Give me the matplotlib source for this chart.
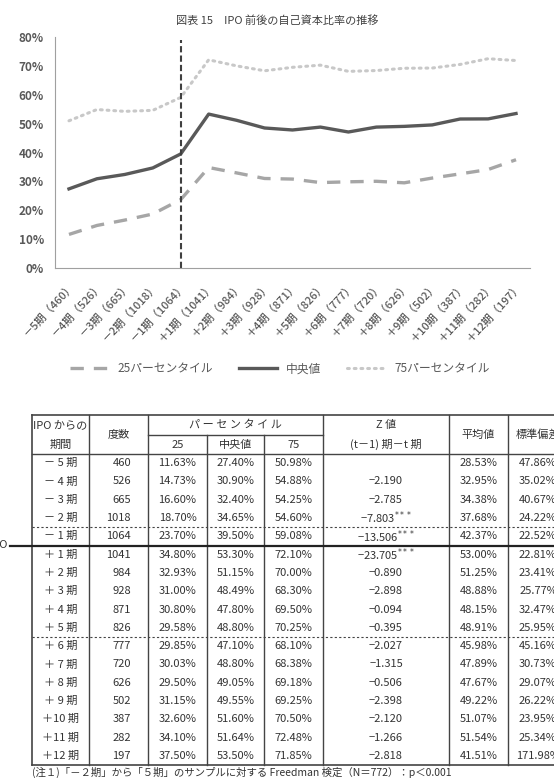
# IPO前後の自己資本比率の推移 (chart + table)

import numpy as np
import matplotlib.pyplot as plt
from matplotlib.ticker import PercentFormatter

plt.rcParams['font.family'] = ['Noto Sans CJK JP', 'DejaVu Sans']

periods = ['－5期', '－4期', '－3期', '－2期', '－1期', '＋1期', '＋2期', '＋3期', '＋4期',
           '＋5期', '＋6期', '＋7期', '＋8期', '＋9期', '＋10期', '＋11期', '＋12期']
table_periods = ['－ 5 期', '－ 4 期', '－ 3 期', '－ 2 期', '－ 1 期', '＋ 1 期', '＋ 2 期',
                 '＋ 3 期', '＋ 4 期', '＋ 5 期', '＋ 6 期', '＋ 7 期', '＋ 8 期', '＋ 9 期',
                 '＋10 期', '＋11 期', '＋12 期']
counts = [460, 526, 665, 1018, 1064, 1041, 984, 928, 871, 826, 777, 720, 626, 502, 387, 282, 197]
p25 = [11.63, 14.73, 16.60, 18.70, 23.70, 34.80, 32.93, 31.00, 30.80, 29.58, 29.85,
       30.03, 29.50, 31.15, 32.60, 34.10, 37.50]
med = [27.40, 30.90, 32.40, 34.65, 39.50, 53.30, 51.15, 48.49, 47.80, 48.80, 47.10,
       48.80, 49.05, 49.55, 51.60, 51.64, 53.50]
p75 = [50.98, 54.88, 54.25, 54.60, 59.08, 72.10, 70.00, 68.30, 69.50, 70.25, 68.10,
       68.38, 69.18, 69.25, 70.50, 72.48, 71.85]
zvals = ['', '−2.190', '−2.785', '−7.803', '−13.506', '−23.705', '−0.890', '−2.898',
         '−0.094', '−0.395', '−2.027', '−1.315', '−0.506', '−2.398', '−2.120', '−1.266', '−2.818']
zsig = ['', '', '', '***', '***', '***', '', '', '', '', '', '', '', '', '', '', '']
means = [28.53, 32.95, 34.38, 37.68, 42.37, 53.00, 51.25, 48.88, 48.15, 48.91, 45.98,
         47.89, 47.67, 49.22, 51.07, 51.54, 41.51]
sds = [47.86, 35.02, 40.67, 24.22, 22.52, 22.81, 23.41, 25.77, 32.47, 25.95, 45.16,
       30.73, 29.07, 26.22, 23.95, 25.34, 171.98]
ipo_index = 4

W, H = 554, 778
fig = plt.figure(figsize=(W / 100, H / 100), dpi=100)

# ---- table layer (pixel coords) ----
tax = fig.add_axes([0, 0, 1, 1])
tax.set_xlim(0, W)
tax.set_ylim(H, 0)
tax.axis('off')

edges = [32, 89, 148, 207, 264, 323, 449, 508, 585]
top, hmid, hbot = 415, 435, 454
rh = 18.3
n = len(periods)
bottom = hbot + n * rh
lc = '#444444'
tc = '#333333'
fs = 8

tax.plot([edges[0], edges[-1]], [top, top], color=lc, lw=1.2)
tax.plot([edges[0], edges[-1]], [bottom, bottom], color=lc, lw=1.2)
tax.plot([edges[0], edges[-1]], [hbot, hbot], color=lc, lw=1)
tax.plot([edges[2], edges[5]], [hmid, hmid], color=lc, lw=1)
for i, x in enumerate(edges):
    y0 = hmid if i in (3, 4) else top
    tax.plot([x, x], [y0, bottom], color=lc, lw=1.2 if i == 0 else 1)
for r in (4, 10):
    y = hbot + r * rh
    tax.plot([edges[0], edges[-1]], [y, y], color=lc, lw=0.8, ls=(0, (2, 2)))
y_ipo = hbot + 5 * rh
tax.plot([10, edges[-1]], [y_ipo, y_ipo], color='#222222', lw=1.6)
tax.text(8, y_ipo, 'IPO', ha='right', va='center', fontsize=fs, color=tc)

cx = [(edges[i] + edges[i + 1]) / 2 for i in range(len(edges) - 1)]
cx[-1] = 538
# headers
tax.text(cx[0], (top + hmid) / 2, 'IPO からの', ha='center', va='center', fontsize=fs, color=tc)
tax.text(cx[0], (hmid + hbot) / 2, '期間', ha='center', va='center', fontsize=fs, color=tc)
tax.text(cx[1], (top + hbot) / 2, '度数', ha='center', va='center', fontsize=fs, color=tc)
tax.text(cx[3], (top + hmid) / 2, 'パ ー セ ン タ イ ル', ha='center', va='center', fontsize=fs, color=tc)
for j, lab in zip((2, 3, 4), ('25', '中央値', '75')):
    tax.text(cx[j], (hmid + hbot) / 2, lab, ha='center', va='center', fontsize=fs, color=tc)
tax.text(cx[5], (top + hmid) / 2, 'Z 値', ha='center', va='center', fontsize=fs, color=tc)
tax.text(cx[5], (hmid + hbot) / 2, '(t－1) 期－t 期', ha='center', va='center', fontsize=fs, color=tc)
tax.text(cx[6], (top + hbot) / 2, '平均値', ha='center', va='center', fontsize=fs, color=tc)
tax.text(cx[7], (top + hbot) / 2, '標準偏差', ha='center', va='center', fontsize=fs, color=tc)

for i in range(n):
    y = hbot + (i + 0.5) * rh
    tax.text(cx[0], y, table_periods[i], ha='center', va='center', fontsize=fs, color=tc)
    tax.text(131, y, str(counts[i]), ha='right', va='center', fontsize=fs, color=tc)
    tax.text(cx[2], y, '%.2f%%' % p25[i], ha='center', va='center', fontsize=fs, color=tc)
    tax.text(cx[3], y, '%.2f%%' % med[i], ha='center', va='center', fontsize=fs, color=tc)
    tax.text(cx[4], y, '%.2f%%' % p75[i], ha='center', va='center', fontsize=fs, color=tc)
    if zvals[i]:
        ztxt = zvals[i] + (r'$^{%s}$' % zsig[i] if zsig[i] else '')
        tax.text(cx[5], y, ztxt, ha='center', va='center', fontsize=fs, color=tc)
    tax.text(cx[6], y, '%.2f%%' % means[i], ha='center', va='center', fontsize=fs, color=tc)
    tax.text(cx[7], y, '%.2f%%' % sds[i], ha='center', va='center', fontsize=fs, color=tc)

tax.text(edges[0], 772, '(注１)「－２期」から「５期」のサンプルに対する Freedman 検定（N＝772）：p＜0.001',
         ha='left', va='center', fontsize=7.5, color=tc)

# ---- line chart ----
ax = fig.add_axes([55 / W, 1 - 268 / H, 475 / W, (268 - 37) / H])
x = np.arange(n)
ax.plot(x, p25, color='#a6a6a6', lw=2.4, ls=(0, (4, 3)), label='25パーセンタイル')
ax.plot(x, med, color='#595959', lw=2.4, label='中央値')
ax.plot(x, p75, color='#c8c8c8', lw=2.2, ls=(0, (0.6, 1.6)), dash_capstyle='round',
        label='75パーセンタイル')
ax.axvline(ipo_index, ymin=0, ymax=0.985, color='#404040', lw=1.5, ls=(0, (3, 1.5)))

ax.set_xlim(-0.5, n - 0.5)
ax.set_ylim(0, 80)
ax.set_yticks(np.arange(0, 81, 10))
ax.yaxis.set_major_formatter(PercentFormatter(decimals=0))
ax.set_xticks(x)
ax.set_xticklabels(['%s（%d）' % (p, c) for p, c in zip(periods, counts)], rotation=47,
                   ha='right', rotation_mode='anchor', fontsize=8, color='#595959')
ax.tick_params(axis='y', length=0, labelsize=8.5, labelcolor='#595959', pad=8)
ax.tick_params(axis='x', length=0, pad=9)
for s in ('top', 'right'):
    ax.spines[s].set_visible(False)
ax.spines['left'].set_color('#a0a0a0')
ax.spines['bottom'].set_color('#a0a0a0')
for lab in ax.get_yticklabels():
    lab.set_fontweight('bold')
for lab in ax.get_xticklabels():
    lab.set_fontweight('medium')

fig.text(0.5, 1 - 21 / H, '図表 15　IPO 前後の自己資本比率の推移', ha='center', va='center',
         fontsize=8, color='#404040')
fig.legend(loc='center', bbox_to_anchor=(280 / W, 1 - 369 / H), ncol=3, frameon=False,
           fontsize=8.5, handlelength=3.2, columnspacing=2.2, labelcolor='#595959')

fig.savefig('out.png', dpi=100)
